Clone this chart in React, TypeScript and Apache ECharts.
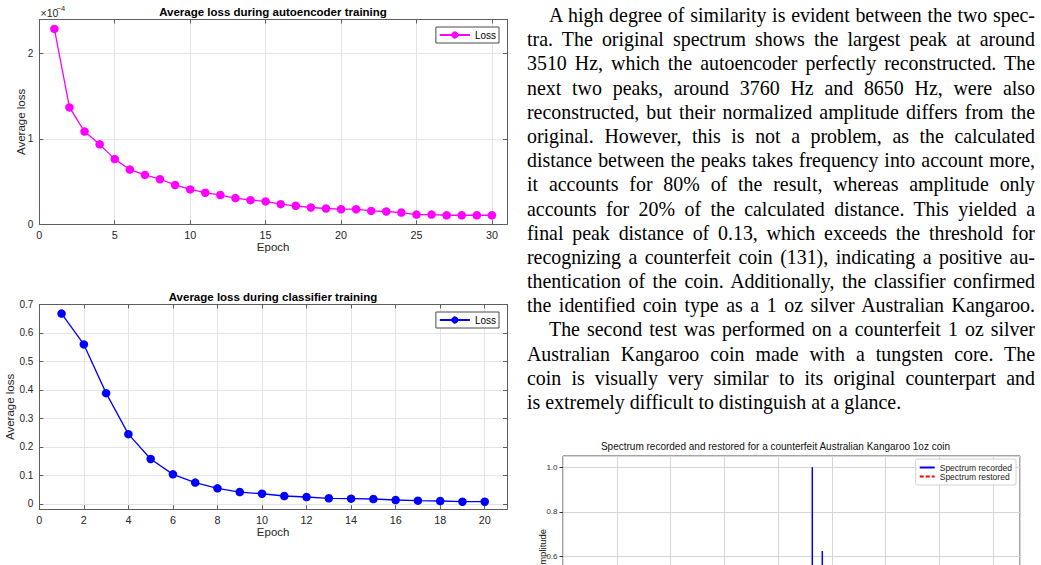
import React, { useEffect, useRef } from 'react';
import * as echarts from 'echarts';

const SANS = '"Liberation Sans", Arial, Helvetica, sans-serif';
const SERIF = '"Liberation Serif", "Times New Roman", Times, serif';

// ---- Data: autoencoder training (values in units of 1e-4) ----
const aeEpochs = [1, 2, 3, 4, 5, 6, 7, 8, 9, 10, 11, 12, 13, 14, 15, 16, 17, 18, 19, 20, 21, 22, 23, 24, 25, 26, 27, 28, 29, 30];
const aeLossE4 = [2.29, 1.37, 1.087, 0.937, 0.764, 0.642, 0.579, 0.528, 0.461, 0.409, 0.37, 0.343, 0.307, 0.283, 0.268, 0.236, 0.217, 0.197, 0.185, 0.177, 0.177, 0.157, 0.15, 0.138, 0.114, 0.114, 0.106, 0.106, 0.106, 0.106];

// ---- Data: classifier training ----
const clsEpochs = [1, 2, 3, 4, 5, 6, 7, 8, 9, 10, 11, 12, 13, 14, 15, 16, 17, 18, 19, 20];
const clsLoss = [0.668, 0.56, 0.389, 0.245, 0.158, 0.104, 0.075, 0.055, 0.042, 0.036, 0.028, 0.0245, 0.02, 0.0187, 0.0175, 0.014, 0.0117, 0.0105, 0.008, 0.008];

// ---- Data: spectrum of counterfeit coin (peaks; only the top part is visible) ----
const recordedFreqHz = [4637, 4823];
const recordedAmp = [1.0, 0.624];
const restoredFreqHz = [4637, 4823];
const restoredAmp = [0.5, 0.38];

// ---- Paragraph text (typeset lines) ----
const paragraphLines = [
  { text: 'A high degree of similarity is evident between the two spec-', indent: true, last: false },
  { text: 'tra. The original spectrum shows the largest peak at around', indent: false, last: false },
  { text: '3510 Hz, which the autoencoder perfectly reconstructed. The', indent: false, last: false },
  { text: 'next two peaks, around 3760 Hz and 8650 Hz, were also', indent: false, last: false },
  { text: 'reconstructed, but their normalized amplitude differs from the', indent: false, last: false },
  { text: 'original. However, this is not a problem, as the calculated', indent: false, last: false },
  { text: 'distance between the peaks takes frequency into account more,', indent: false, last: false },
  { text: 'it accounts for 80% of the result, whereas amplitude only', indent: false, last: false },
  { text: 'accounts for 20% of the calculated distance. This yielded a', indent: false, last: false },
  { text: 'final peak distance of 0.13, which exceeds the threshold for', indent: false, last: false },
  { text: 'recognizing a counterfeit coin (131), indicating a positive au-', indent: false, last: false },
  { text: 'thentication of the coin. Additionally, the classifier confirmed', indent: false, last: false },
  { text: 'the identified coin type as a 1 oz silver Australian Kangaroo.', indent: false, last: false },
  { text: 'The second test was performed on a counterfeit 1 oz silver', indent: true, last: false },
  { text: 'Australian Kangaroo coin made with a tungsten core. The', indent: false, last: false },
  { text: 'coin is visually very similar to its original counterpart and', indent: false, last: false },
  { text: 'is extremely difficult to distinguish at a glance.', indent: false, last: true },
];

const AXIS_C = '#5e5e5e';
const GRID_C = '#e4e4e4';
const LABEL_C = '#262626';

type LossCfg = {
  title: string;
  epochs: number[];
  loss: number[];
  color: string;
  xMax: number;
  xInterval: number;
  yMin: number;
  yMax: number;
  yInterval?: number;
  ySplit?: number;
  yFmt: (v: number) => string;
  yNameGap: number;
  exponent?: boolean;
};

function lossOption(c: LossCfg): any {
  const xCommon = { type: 'value', min: 0, max: c.xMax, interval: c.xInterval };
  const yCommon: any = { type: 'value', min: c.yMin, max: c.yMax };
  if (c.yInterval) yCommon.interval = c.yInterval;
  if (c.ySplit) yCommon.splitNumber = c.ySplit;
  const line = { show: true, onZero: false, lineStyle: { color: AXIS_C, width: 1 } };
  const tick = { show: true, inside: true, length: 4, lineStyle: { color: AXIS_C } };
  const graphic: any[] = [
    {
      type: 'text', x: 273, y: 12,
      style: { text: c.title, fill: '#000', fontSize: 11.5, fontWeight: 'bold', fontFamily: SANS, align: 'center', verticalAlign: 'middle' },
    },
  ];
  if (c.exponent) {
    graphic.push({ type: 'text', x: 40.5, y: 12.5, style: { text: '×10', fill: LABEL_C, fontSize: 10.5, fontFamily: SANS, align: 'left', verticalAlign: 'middle' } });
    graphic.push({ type: 'text', x: 56.5, y: 8.5, style: { text: '−4', fill: LABEL_C, fontSize: 7.5, fontFamily: SANS, align: 'left', verticalAlign: 'middle' } });
  }
  return {
    animation: false,
    textStyle: { fontFamily: SANS },
    grid: { left: 39.3, top: 19.5, width: 467.7, height: 204.8, outerBoundsMode: 'none', containLabel: false },
    legend: {
      right: 11, top: 27, orient: 'horizontal', itemWidth: 30, itemHeight: 9, padding: [3, 3, 3, 3],
      borderColor: '#4a4a4a', borderWidth: 1, backgroundColor: '#fff',
      textStyle: { fontSize: 10, color: '#000', fontFamily: SANS },
      data: ['Loss'],
    },
    xAxis: [
      {
        ...xCommon, position: 'bottom', axisLine: line, axisTick: tick,
        axisLabel: { color: LABEL_C, fontSize: 10.8, margin: 5, showMaxLabel: false, fontFamily: SANS },
        splitLine: { show: true, lineStyle: { color: GRID_C, width: 1 } },
        name: 'Epoch', nameLocation: 'middle', nameGap: 17, nameMoveOverlap: false,
        nameTextStyle: { fontSize: 11.5, color: LABEL_C, verticalAlign: 'top', fontFamily: SANS },
      },
      { ...xCommon, position: 'top', axisLine: line, axisTick: tick, axisLabel: { show: false }, splitLine: { show: false } },
    ],
    yAxis: [
      {
        ...yCommon, position: 'left', axisLine: line, axisTick: tick,
        axisLabel: { color: LABEL_C, fontSize: 10, margin: 6, showMaxLabel: !!c.ySplit, showMinLabel: !c.ySplit, formatter: c.yFmt, fontFamily: SANS },
        splitLine: { show: true, lineStyle: { color: GRID_C, width: 1 } },
        name: 'Average loss', nameLocation: 'middle', nameGap: c.yNameGap, nameMoveOverlap: false,
        nameTextStyle: { fontSize: 11.5, color: LABEL_C, fontFamily: SANS },
      },
      { ...yCommon, position: 'right', axisLine: line, axisTick: tick, axisLabel: { show: false }, splitLine: { show: false } },
    ],
    series: [
      {
        name: 'Loss', type: 'line', xAxisIndex: 0, yAxisIndex: 0,
        data: c.epochs.map((e, i) => [e, c.loss[i]]),
        symbol: 'circle', symbolSize: 8.5, showSymbol: true,
        itemStyle: { color: c.color },
        lineStyle: { color: c.color, width: 1.3 },
      },
    ],
    graphic,
  };
}

function spectrumOption(): any {
  const spikes = (freqs: number[], amps: number[]) =>
    freqs.flatMap((f, i) => [[f, 0], [f, amps[i]], [f, 0]]);
  return {
    animation: false,
    textStyle: { fontFamily: SANS },
    title: {
      text: 'Spectrum recorded and restored for a counterfeit Australian Kangaroo 1oz coin',
      left: 'center', top: 11, padding: 0,
      textStyle: { fontSize: 10, fontWeight: 'normal', color: '#111', fontFamily: SANS },
    },
    // the figure continues below the visible page edge; only its upper part is shown
    grid: { left: 53, top: 26, width: 457, height: 122.7, show: true, borderColor: '#4a4a4a', borderWidth: 1, outerBoundsMode: 'none', containLabel: false },
    legend: {
      right: 25, top: 29, orient: 'vertical', itemWidth: 15, itemHeight: 8, itemGap: 0,
      padding: [4, 4, 4, 3], borderColor: '#d2d2d2', borderWidth: 1, borderRadius: 2, backgroundColor: 'rgba(255,255,255,0.85)',
      textStyle: { fontSize: 8.5, color: '#222', fontFamily: SANS },
      itemStyle: { opacity: 0 },
      data: [
        { name: 'Spectrum recorded', itemStyle: { opacity: 0 } },
        { name: 'Spectrum restored', itemStyle: { opacity: 0 }, lineStyle: { type: [4, 2] } },
      ],
    },
    xAxis: {
      type: 'value', min: 0, max: 8500, interval: 1000,
      axisLine: { show: false }, axisTick: { show: false },
      axisLabel: { show: false },
      splitLine: { show: true, lineStyle: { color: '#d6d6d6', width: 1 } },
    },
    yAxis: {
      type: 'value', min: 0.5, max: 1.05, splitNumber: 3,
      axisLine: { show: false }, axisTick: { show: true, length: 3.5, lineStyle: { color: '#333' } },
      axisLabel: { fontSize: 8, color: '#333', margin: 5.5, showMinLabel: false, showMaxLabel: false, formatter: (v: number) => v.toFixed(1) },
      splitLine: { show: true, lineStyle: { color: '#d6d6d6', width: 1 } },
    },
    series: [
      { name: 'Spectrum recorded', type: 'line', data: spikes(recordedFreqHz, recordedAmp), symbol: 'none', lineStyle: { color: '#0000ff', width: 1.5 }, itemStyle: { color: '#0000ff' } },
      { name: 'Spectrum restored', type: 'line', data: spikes(restoredFreqHz, restoredAmp), symbol: 'none', lineStyle: { color: '#ff0000', width: 1.5, type: [4, 2] }, itemStyle: { color: '#ff0000' } },
    ],
    graphic: [
      { type: 'text', x: 32, y: 120, rotation: Math.PI / 2, style: { text: 'Amplitude', fill: '#111', fontSize: 9.5, fontFamily: SANS, align: 'center', verticalAlign: 'middle' } },
    ],
  };
}

function Chart({ option, style }: { option: any; style: React.CSSProperties }) {
  const ref = useRef<HTMLDivElement>(null);
  useEffect(() => {
    if (!ref.current) return;
    const chart = echarts.init(ref.current, null, { renderer: 'svg' });
    chart.setOption(option);
    return () => chart.dispose();
  }, [option]);
  return <div ref={ref} style={{ position: 'absolute', ...style }} />;
}

const opt1 = lossOption({
  title: 'Average loss during autoencoder training', epochs: aeEpochs, loss: aeLossE4, color: '#ff00ff',
  xMax: 31, xInterval: 5, yMin: 0, yMax: 2.4, yInterval: 1, yFmt: (v: number) => String(Math.round(v)),
  yNameGap: 12.5, exponent: true,
});
const opt2 = lossOption({
  title: 'Average loss during classifier training', epochs: clsEpochs, loss: clsLoss, color: '#0000ff',
  xMax: 21, xInterval: 2, yMin: -0.0186, yMax: 0.7, ySplit: 7,
  yFmt: (v: number) => (Math.abs(v) < 1e-9 ? '0' : v.toFixed(1)), yNameGap: 23.5,
});
const opt3 = spectrumOption();

export default function App() {
  return (
    <div style={{ position: 'absolute', left: 0, top: 0, width: 1041, height: 565, overflow: 'hidden', background: '#fff' }}>
      <Chart option={opt1} style={{ left: 0, top: 0, width: 510, height: 260 }} />
      <Chart option={opt2} style={{ left: 0, top: 285, width: 510, height: 260 }} />
      <div style={{ position: 'absolute', left: 527, top: 3, width: 508, fontFamily: SERIF, fontSize: 19.9, lineHeight: '24.2px', color: '#000' }}>
        {paragraphLines.map((l, i) => (
          <div key={i} style={{ height: 24.2, whiteSpace: 'nowrap', paddingLeft: l.indent ? 22 : 0, textAlign: l.last ? 'left' : 'justify', textAlignLast: l.last ? 'left' : 'justify' } as React.CSSProperties}>
            {l.text}
          </div>
        ))}
      </div>
      <Chart option={opt3} style={{ left: 510, top: 430, width: 531, height: 135 }} />
    </div>
  );
}
